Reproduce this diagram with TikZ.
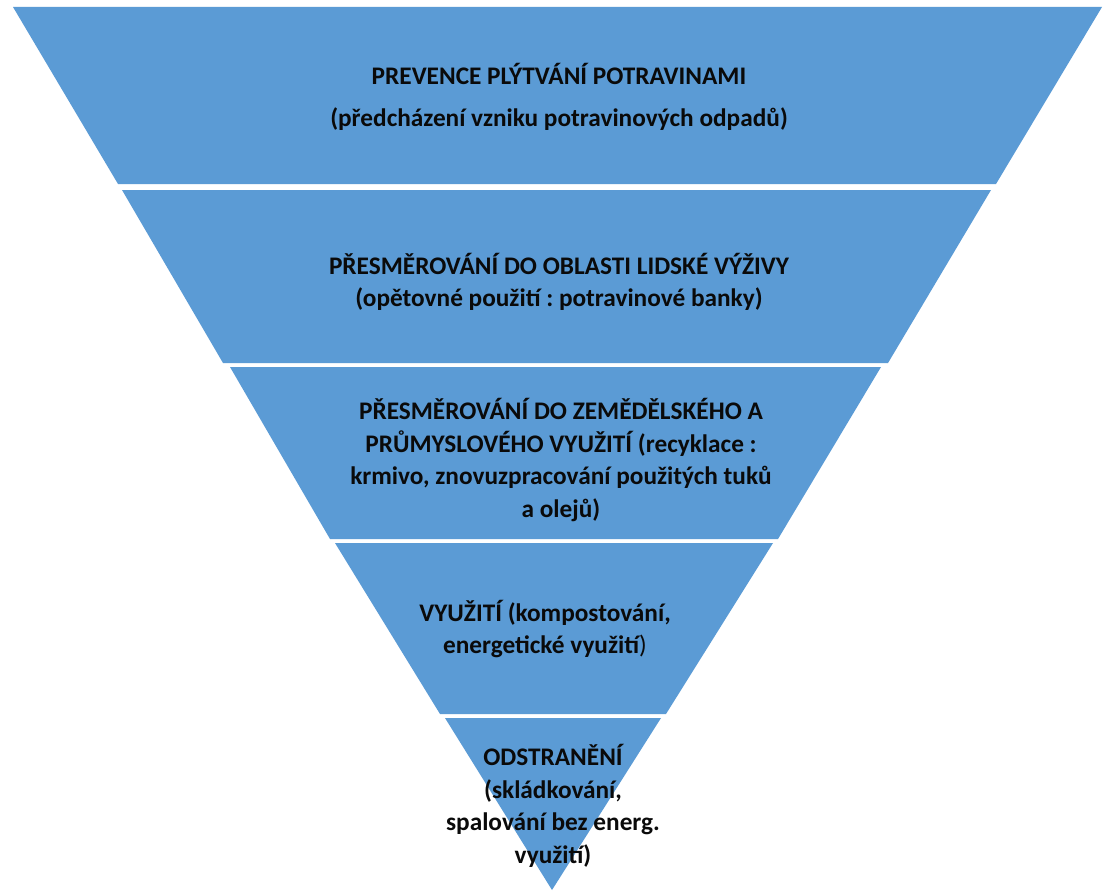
\documentclass[tikz,border=0pt]{standalone}
\usepackage{fontspec}
\setmainfont{Carlito}
\frenchspacing
\definecolor{bandblue}{HTML}{5B9BD5}
\definecolor{txt}{HTML}{0A0A0A}
\begin{document}
\begin{tikzpicture}[x=1pt,y=-1pt,
  band/.style={fill=bandblue,draw=none},
  lbl/.style={align=center,text=txt,font=\fontsize{25.3}{32.5}\selectfont\bfseries\frenchspacing,inner sep=0pt}]
\useasboundingbox (0,0) rectangle (1107,891);
\fill[white] (0,0) rectangle (1107,891);
% bands
\path[band] (13,7) -- (1102,7) -- (996,184) -- (118,184) -- cycle;
\path[band] (122,190) -- (991,190) -- (888,363) -- (223,363) -- cycle;
\path[band] (230,367) -- (881,367) -- (778,539) -- (330,539) -- cycle;
\path[band] (335,543) -- (773,543) -- (666,714) -- (440,714) -- cycle;
\path[band] (445,718) -- (661,718) -- (552,890) -- cycle;
% labels
\node[lbl] (t1) at (559,97) {PREVENCE PLÝTVÁNÍ POTRAVINAMI\\[10pt](předcházení vzniku potravinových odpadů)};
\node[lbl] (t2) at (559,282) {PŘESMĚROVÁNÍ DO OBLASTI LIDSKÉ VÝŽIVY\\(opětovné použití : potravinové banky)};
\node[lbl] (t3) at (561,460) {PŘESMĚROVÁNÍ DO ZEMĚDĚLSKÉHO A\\PRŮMYSLOVÉHO VYUŽITÍ (recyklace :\\krmivo, znovuzpracování použitých tuků\\a olejů)};
\node[lbl] (t4) at (545,629) {VYUŽITÍ (kompostování,\\energetické využití{\mdseries)}};
\node[lbl] (t5) at (553,806) {ODSTRANĚNÍ\\(skládkování,\\spalování bez energ.\\využití)};
\end{tikzpicture}
\end{document}
